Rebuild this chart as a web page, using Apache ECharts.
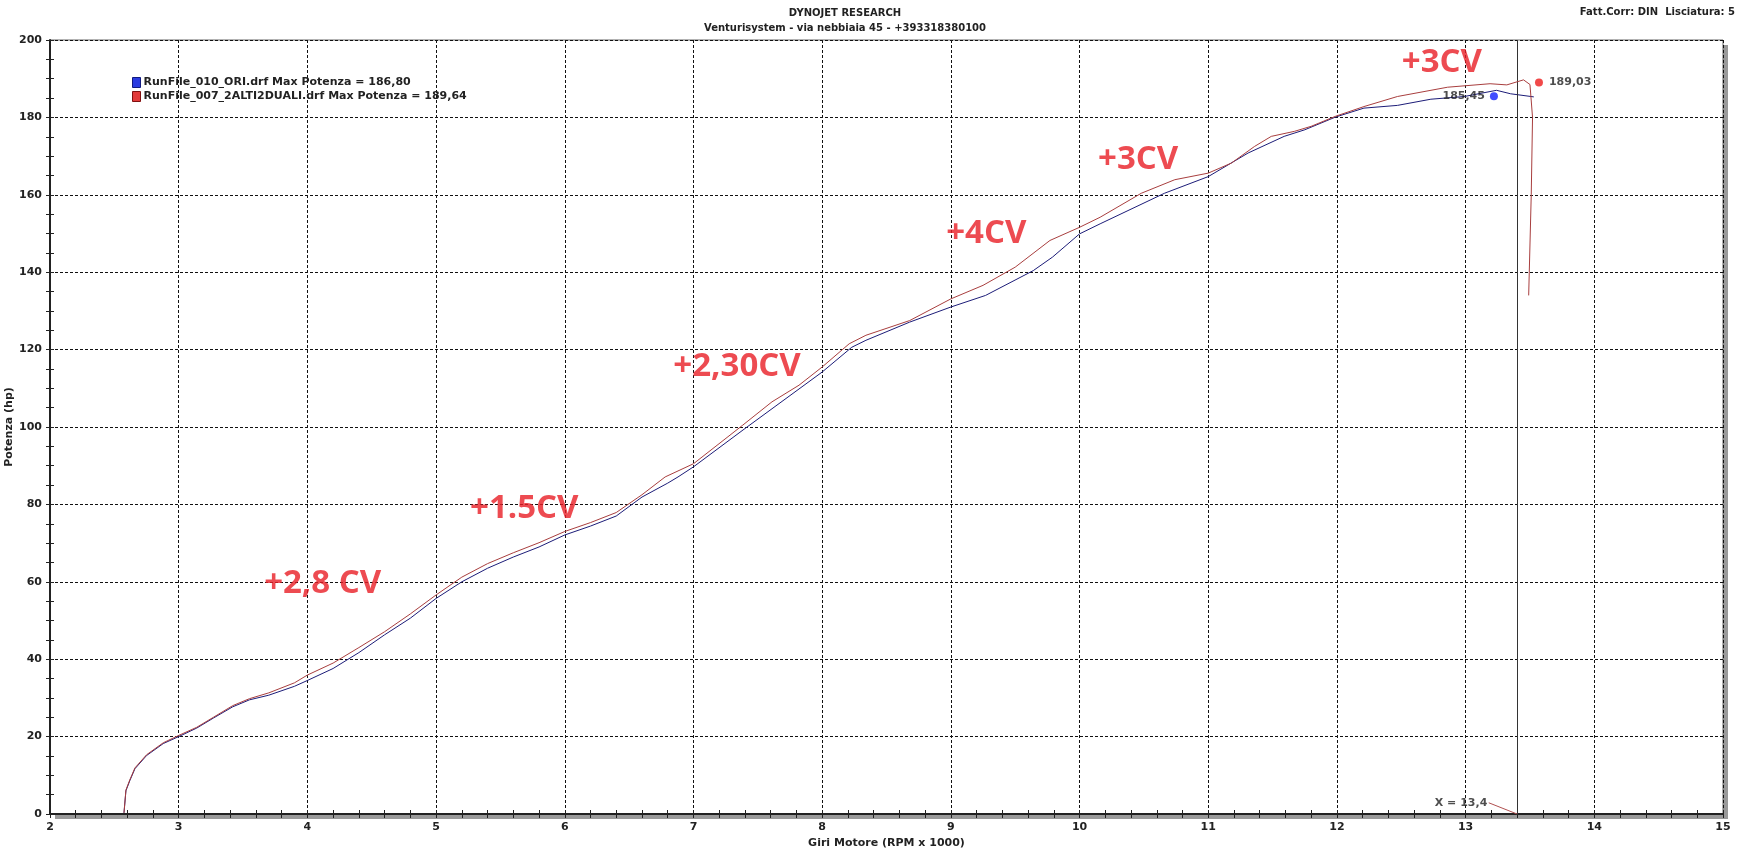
<!DOCTYPE html>
<html><head><meta charset="utf-8">
<script src="https://cdn.jsdelivr.net/npm/echarts@6/dist/echarts.min.js"></script>
<style>html,body{margin:0;padding:0;background:#fff}#c{width:1750px;height:852px}</style>
</head><body><div id="c"></div>
<script>
// ---- data ----
const oriName = 'RunFile_010_ORI.drf Max Potenza = 186,80';
const altiName = 'RunFile_007_2ALTI2DUALI.drf Max Potenza = 189,64';

const oriRpm = [2.575,2.59,2.62,2.66,2.75,2.88,3.0,3.14,3.27,3.42,3.55,3.7,3.9,4.0,4.2,4.4,4.6,4.8,5.0,5.2,5.4,5.6,5.8,6.0,6.2,6.4,6.6,6.8,6.88,7.0,7.4,8.0,8.23,8.34,8.68,9.0,9.27,9.64,9.79,10.0,10.16,10.66,11.0,11.31,11.59,11.75,11.99,12.21,12.47,12.73,12.99,13.24,13.35,13.53];
const oriHp  = [0.3,6.0,8.6,11.7,15.1,18.2,20.0,22.2,24.8,27.7,29.5,30.7,33.0,34.5,37.6,41.7,46.3,50.6,55.7,60.0,63.5,66.4,69.0,72.1,74.4,77.0,81.9,85.5,87.1,89.7,99.6,114.2,120.6,122.4,127.1,131.0,134.0,140.4,143.9,149.9,152.5,160.4,164.7,170.8,175.1,176.8,180.1,182.4,183.1,184.7,185.4,187.0,186.1,185.3];

const altiRpm = [2.575,2.59,2.62,2.66,2.75,2.88,3.0,3.14,3.27,3.42,3.55,3.7,3.9,4.0,4.2,4.4,4.6,4.8,5.0,5.2,5.4,5.6,5.8,6.0,6.2,6.4,6.6,6.78,7.0,7.38,7.61,7.82,8.0,8.21,8.34,8.68,9.0,9.25,9.5,9.77,10.0,10.16,10.48,10.74,11.0,11.18,11.36,11.49,11.67,11.8,11.99,12.21,12.47,12.86,13.19,13.32,13.45,13.5,13.52,13.51,13.49];
const altiHp  = [0.3,6.2,8.8,11.9,15.3,18.4,20.3,22.4,25.0,28.0,29.8,31.3,33.9,35.9,39.0,43.0,47.1,51.7,56.6,61.2,64.7,67.5,70.1,73.0,75.3,77.9,82.5,87.1,90.5,100.4,106.5,110.8,115.5,121.5,123.7,127.5,133.1,136.6,141.3,148.2,151.6,154.2,160.4,163.9,165.6,168.2,172.5,175.1,176.4,177.7,180.3,182.8,185.4,187.8,188.7,188.4,189.7,188.5,180.0,160.0,134.0];

const annoText = ['+2,8 CV','+1.5CV','+2,30CV','+4CV','+3CV','+3CV'];
const annoRpm  = [3.66,5.26,6.84,8.96,10.14,12.5];
const annoHp   = [59.6,78.9,115.5,149.9,169.0,194.1];

const altiPeak = [13.57,189.03];
const altiPeakLabel = '189,03';
const oriPeak = [13.22,185.45];
const oriPeakLabel = '185,45';

const cursorRpm = 13.4;
const cursorLabelPt = [13.18,2.9];
const cursorLabel = 'X = 13,4';

const xMin = 2, xMax = 15, xStep = 1;
const yMin = 0, yMax = 200, yStep = 20;

// ---- chart ----
const FONT = 'DejaVu Sans';
const zip = (a,b) => a.map((v,i)=>[v,b[i]]);
const chart = echarts.init(document.getElementById('c'), null, {renderer:'canvas'});

const gridBox = {left:50, right:27, top:40, bottom:38, containLabel:false, outerBoundsMode:'none'};
const baseX = {type:'value', min:xMin, max:xMax, interval:xStep, gridIndex:0};
const baseY = {type:'value', min:yMin, max:yMax, interval:yStep, gridIndex:0};

chart.setOption({
  animation:false,
  backgroundColor:'#fff',
  title:[
    {text:'DYNOJET RESEARCH', left:840, top:3, textAlign:'center',
     textStyle:{fontFamily:FONT,fontWeight:'bold',fontSize:10,color:'#222'}},
    {text:'Venturisystem - via nebbiaia 45 - +393318380100', left:840, top:18, textAlign:'center',
     textStyle:{fontFamily:FONT,fontWeight:'bold',fontSize:10,color:'#222'}},
    {text:'Fatt.Corr: DIN  Lisciatura: 5', right:10, top:2,
     textStyle:{fontFamily:FONT,fontWeight:'bold',fontSize:10,color:'#222'}}
  ],
  legend:{
    orient:'vertical', left:127, top:72, itemWidth:8, itemHeight:10, itemGap:3,
    icon:'rect', selectedMode:false,
    textStyle:{fontFamily:FONT,fontWeight:'bold',fontSize:11,color:'#222',padding:[0,0,0,-2]},
    data:[
      {name:oriName, itemStyle:{color:'#2a3be0',borderColor:'#111a80',borderWidth:1}},
      {name:altiName, itemStyle:{color:'#e23a3a',borderColor:'#801010',borderWidth:1}}
    ]
  },
  grid:[
    Object.assign({show:true, backgroundColor:'#fff', borderWidth:0,
        shadowColor:'#9a9a9a', shadowBlur:0, shadowOffsetX:5, shadowOffsetY:5}, gridBox),
    Object.assign({show:true, backgroundColor:'transparent', borderColor:'#666', borderWidth:1}, gridBox)
  ],
  xAxis:[
    Object.assign({}, baseX, {
      name:'Giri Motore (RPM x 1000)', nameLocation:'middle', nameGap:24, nameMoveOverlap:false,
      nameTextStyle:{fontFamily:FONT,fontWeight:'bold',fontSize:11,color:'#222'},
      axisLine:{lineStyle:{color:'#222',width:2}},
      axisTick:{show:true,length:4,lineStyle:{color:'#222',width:1}},
      minorTick:{show:true,splitNumber:5,length:4,lineStyle:{color:'#222',width:1}},
      axisLabel:{fontFamily:FONT,fontWeight:'bold',fontSize:11,color:'#222',margin:8},
      splitLine:{show:true,lineStyle:{color:'#111',width:1,type:[3,2]}}
    }),
    Object.assign({}, baseX, {
      position:'bottom',
      axisLine:{show:false}, axisLabel:{show:false}, splitLine:{show:false},
      axisTick:{show:true,inside:true,length:4,lineStyle:{color:'#222',width:1}},
      minorTick:{show:true,splitNumber:5,length:4,lineStyle:{color:'#222',width:1}}
    })
  ],
  yAxis:[
    Object.assign({}, baseY, {
      name:'Potenza (hp)', nameLocation:'middle', nameGap:35, nameMoveOverlap:false,
      nameTextStyle:{fontFamily:FONT,fontWeight:'bold',fontSize:11,color:'#222'},
      axisLine:{lineStyle:{color:'#222',width:2}},
      axisTick:{show:true,length:4,lineStyle:{color:'#222',width:1}},
      minorTick:{show:true,splitNumber:4,length:4,lineStyle:{color:'#222',width:1}},
      axisLabel:{fontFamily:FONT,fontWeight:'bold',fontSize:11,color:'#222',margin:8},
      splitLine:{show:true,lineStyle:{color:'#111',width:1,type:[3,2]}}
    }),
    Object.assign({}, baseY, {
      position:'left',
      axisLine:{show:false}, axisLabel:{show:false}, splitLine:{show:false},
      axisTick:{show:true,inside:true,length:4,lineStyle:{color:'#222',width:1}},
      minorTick:{show:true,splitNumber:4,length:4,lineStyle:{color:'#222',width:1}}
    })
  ],
  series:[
    {
      name:'cursor', type:'line', data:[cursorLabelPt,[cursorRpm,0]],
      symbol:'none', lineStyle:{color:'#b05050',width:1}, z:3,
      markLine:{silent:true, symbol:'none', label:{show:false},
        lineStyle:{color:'#333',width:1,type:'solid'},
        data:[{xAxis:cursorRpm}]}
    },
    {
      name:'cursorText', type:'scatter', symbolSize:1, itemStyle:{color:'rgba(0,0,0,0)'},
      data:[{value:cursorLabelPt, name:cursorLabel}],
      label:{show:true, position:'left', distance:1, formatter:p=>p.name,
        fontFamily:FONT,fontWeight:'bold',fontSize:11,color:'#222'}
    },
    {
      name:oriName, type:'line', data:zip(oriRpm,oriHp), symbol:'none', smooth:false,
      lineStyle:{color:'#1c1c78',width:1}, itemStyle:{color:'#2a3be0'}, z:4
    },
    {
      name:altiName, type:'line', data:zip(altiRpm,altiHp), symbol:'none', smooth:false,
      lineStyle:{color:'#a83e3e',width:1}, itemStyle:{color:'#e23a3a'}, z:5
    },
    {
      name:'peaks', type:'scatter', symbolSize:8, z:6,
      data:[
        {value:oriPeak, name:oriPeakLabel, itemStyle:{color:'#1020ff'},
         label:{position:'left',distance:5}},
        {value:altiPeak, name:altiPeakLabel, itemStyle:{color:'#ee1c1c'},
         label:{position:'right',distance:6}}
      ],
      label:{show:true, formatter:p=>p.name,
        fontFamily:FONT,fontWeight:'bold',fontSize:11,color:'#222'}
    },
    {
      name:'annotations', type:'scatter', symbolSize:1, z:7,
      itemStyle:{color:'rgba(0,0,0,0)'},
      data:annoText.map((t,i)=>({value:[annoRpm[i],annoHp[i]], name:t})),
      label:{show:true, position:'right', distance:0, formatter:p=>p.name,
        fontFamily:'Open Sans', fontWeight:'bold', fontSize:33, color:'#e81e26'}
    }
  ]
});
</script>
</body></html>
